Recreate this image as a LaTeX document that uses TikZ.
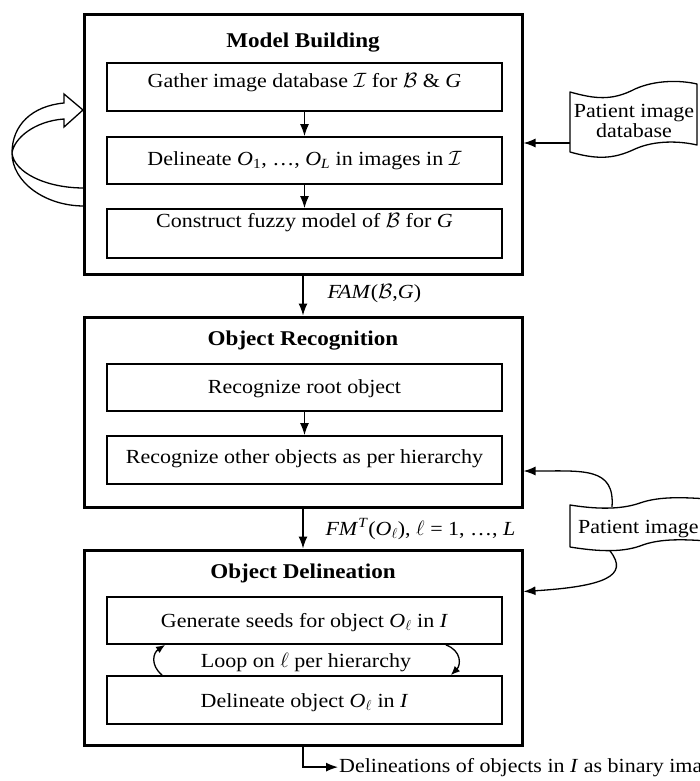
\documentclass[tikz,border=0pt]{standalone}
\usepackage{fontspec}
\setmainfont{Liberation Serif}[FakeStretch=1.1]
\usetikzlibrary{arrows.meta}

\begin{document}
\begin{tikzpicture}[x=1pt,y=-1pt,
  every node/.style={font=\fontsize{20}{17}\selectfont},
  outerbox/.style={draw, line width=3pt, minimum width=438pt, inner sep=0pt},
  innerbox/.style={draw, line width=1.8pt, minimum width=395pt, inner sep=0pt, text height=14pt},
  title/.style={font=\bfseries\fontsize{21}{22}\selectfont, anchor=base},
  docline/.style={line width=1.3pt, line join=round},
  arr/.style={line width=1.3pt, -{Latex[length=12pt,width=9pt]}},
  arrsmall/.style={line width=1.3pt, -{Latex[length=9pt,width=7.5pt]}},
  ribbon/.style={line width=1.3pt, line join=miter}
]
\useasboundingbox (0,0) rectangle (699,781);

% --- stage 1: model building
\node[outerbox, minimum height=259pt] (mb) at (303,144.5) {};
\node[title] (mbt) at (303,48) {Model Building};
\node[innerbox, minimum height=48pt, text depth=12pt] (mb1) at (304.5,87)
  {Gather image database $\mathcal{I}$ for $\mathcal{B}$ \& \textit{G}};
\node[innerbox, minimum height=47pt, text depth=4pt] (mb2) at (304.5,160.5)
  {Delineate \textit{O}\textsubscript{1}, …, \textit{O}\textsubscript{\textit{L}} in images in $\mathcal{I}$};
\node[innerbox, minimum height=49pt, text depth=27pt] (mb3) at (304.5,233.5)
  {Construct fuzzy model of $\mathcal{B}$ for \textit{G}};
\draw[arr] (mb1) -- (mb2);
\draw[arr] (mb2) -- (mb3);

% iteration ribbon on the left of stage 1
\draw[ribbon] (84,206) .. controls (45,206) and (12,182) .. (12,153)
  .. controls (12,125) and (32,106) .. (64,103) -- (64,94) -- (83,110)
  -- (64,127) -- (64,119) .. controls (35,121) and (14,138) .. (12,153)
  .. controls (14,172) and (45,188) .. (84,188);

% patient image database (document symbol with wavy top and bottom)
\draw[docline] (570,92) .. controls (595,99) and (612,101) .. (635,89)
  .. controls (655,80) and (680,80) .. (697,84) -- (697,145)
  .. controls (680,141) and (655,140) .. (635,149)
  .. controls (612,160) and (595,159) .. (570,152) -- cycle;
\node[align=center, inner sep=0pt] (pdb) at (634,121) {Patient image\\database};
\coordinate (pdbin) at (570,143);
\draw[arr] (pdbin) -- (pdbin -| mb.east);

% --- stage 2: recognition
\node[outerbox, minimum height=190pt] (or) at (303,412) {};
\node[title] (ort) at (303,345) {Object Recognition};
\node[innerbox, minimum height=47pt, text depth=3pt] (or1) at (304.5,387.5)
  {Recognize root object};
\node[innerbox, minimum height=48pt, text depth=8pt] (or2) at (304.5,460)
  {Recognize other objects as per hierarchy};
\draw[arr] (or1) -- (or2);

\draw[arr] (mb) -- (or);
\node[anchor=base west] (fam) at (324,298) {\textit{FAM}($\mathcal{B}$,\textit{G})};

% --- stage 3: delineation
\node[outerbox, minimum height=195pt] (od) at (303,647.5) {};
\node[title] (odt) at (303,578) {Object Delineation};
\node[innerbox, minimum height=47pt, text depth=1pt] (od1) at (304.5,620.5)
  {Generate seeds for object \textit{O}\textsubscript{$\ell$} in \textit{I}};
\node[innerbox, minimum height=48pt, text depth=0pt] (od2) at (304.5,700)
  {Delineate object \textit{O}\textsubscript{$\ell$} in \textit{I}};
\node[anchor=base] (loop) at (306,667) {Loop on $\ell$ per hierarchy};
\draw[arrsmall] ([xshift=56pt]od2.north west) .. controls +(-12,-10) and +(-12,8) .. ([xshift=59pt]od1.south west);
\draw[arrsmall] ([xshift=-57pt]od1.south east) .. controls +(16,6) and +(10,-10) .. ([xshift=-52pt]od2.north east);

\draw[arr] (or) -- (od);
\node[anchor=base west] (fmt) at (322,535)
  {\textit{FM}\textsuperscript{\textit{T}}(\textit{O}\textsubscript{$\ell$}), $\ell$ = 1, …, \textit{L}};

% patient image feeding stages 2 and 3
\draw[docline] (570,505) .. controls (595,509) and (620,510) .. (640,503)
  .. controls (660,496) and (685,497) .. (720,500) -- (720,542)
  .. controls (685,539) and (660,538) .. (640,546)
  .. controls (620,553) and (595,551) .. (570,547) -- cycle;
\node[anchor=base west, inner sep=0pt] (pimg) at (578,533) {Patient image};
\coordinate (pimgtop) at (612,507);
\coordinate (pimgbot) at (610,551);
\draw[arr] (pimgtop) .. controls +(3,-40) and +(60,0) .. ([yshift=-59pt]or.east);
\draw[arr] (pimgbot) .. controls +(20,25) and +(80,-5) .. ([yshift=56pt]od.east);

% output
\node[anchor=base west, inner sep=1pt] (out) at (338,772)
  {Delineations of objects in \textit{I} as binary images};
\draw[arr] (od.south) |- (out.west);
\end{tikzpicture}
\end{document}
